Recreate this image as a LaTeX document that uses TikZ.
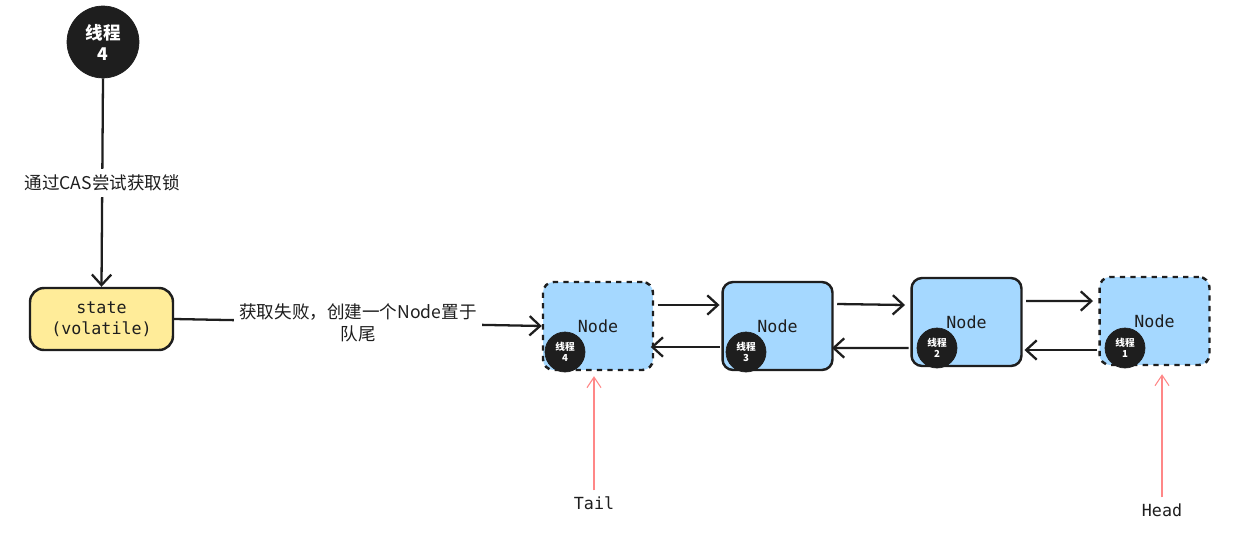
\documentclass[tikz,border=0pt]{standalone}
\usepackage{fontspec}
\setmainfont{Noto Sans CJK SC}
\setmonofont{DejaVu Sans Mono}
\usetikzlibrary{arrows.meta}
\definecolor{ink}{HTML}{1E1E1E}
\definecolor{nodeblue}{HTML}{A5D8FF}
\definecolor{stateyellow}{HTML}{FFEC99}
\definecolor{pointred}{HTML}{FF8787}
\tikzset{
  link/.style={draw=ink,line width=1.3pt,-{Straight Barb[length=6pt,width=11pt]}},
  pointer/.style={draw=pointred,line width=.6pt,-{Straight Barb[length=6pt,width=8pt]}},
  qnode/.style={draw=ink,fill=nodeblue,line width=1.4pt,rounded corners=6pt,minimum width=2.2cm,minimum height=1.76cm,text=ink,font=\ttfamily\fontsize{9.5}{11}\selectfont},
  thread/.style={circle,fill=ink,draw=ink,text=white,align=center,inner sep=0pt},
  smallthread/.style={thread,minimum size=.8cm,font=\bfseries\fontsize{5.5}{6}\selectfont},
  says/.style={fill=white,text=ink,align=center,font=\fontsize{10}{12.5}\selectfont}
}
\begin{document}
\begin{tikzpicture}[x=.02cm,y=-.02cm]
\useasboundingbox[fill=white] (0,0) rectangle (1250,541);
% thread 4 and the lock state
\node[thread,minimum size=1.44cm,font=\bfseries\fontsize{10}{12}\selectfont] (t4) at (103,42) {线程\\4};
\node[draw=ink,fill=stateyellow,line width=1.4pt,rounded corners=8pt,minimum width=2.86cm,minimum height=1.24cm,align=center,text=ink,font=\ttfamily\fontsize{9.5}{12}\selectfont] (state) at (101.5,319) {state\\(volatile)};
\draw[link] (t4.south) -- (state.north) node[midway,says]{通过CAS尝试获取锁};
% the queue
\node[qnode,dashed] (n4) at (598,326) {Node};
\node[qnode] (n3) at (777.5,326) {Node};
\node[qnode] (n2) at (966.5,322) {Node};
\node[qnode,dashed] (n1) at (1154.5,321) {Node};
\node[smallthread] (s4) at (565,352) {线程\\4};
\node[smallthread] (s3) at (746,352) {线程\\3};
\node[smallthread] (s2) at (937,348) {线程\\2};
\node[smallthread] (s1) at (1125,348) {线程\\1};
\draw[link] (state.east) -- (n4.west) node[midway,says]{获取失败，创建一个Node置于\\队尾};
\draw[link] ([xshift=2pt,yshift=.42cm]n4.east) -- ([xshift=-1pt,yshift=.42cm]n3.west);
\draw[link] ([xshift=2pt,yshift=.44cm]n3.east) -- ([xshift=-3pt,yshift=.34cm]n2.west);
\draw[link] ([xshift=2pt,yshift=.42cm]n2.east) -- ([xshift=-3pt,yshift=.40cm]n1.west);
\draw[link] ([xshift=-1pt,yshift=-.42cm]n3.west) -- ([xshift=-2pt,yshift=-.42cm]n4.east);
\draw[link] ([xshift=-1pt,yshift=-.52cm]n2.west) -- ([xshift=-1pt,yshift=-.44cm]n3.east);
\draw[link] ([xshift=-1pt,yshift=-.58cm]n1.west) -- ([xshift=1pt,yshift=-.56cm]n2.east);
% tail and head
\node[text=ink,font=\ttfamily\fontsize{9.5}{11}\selectfont] (tail) at (594,503) {Tail};
\node[text=ink,font=\ttfamily\fontsize{9.5}{11}\selectfont] (head) at (1162,510) {Head};
\draw[pointer,shorten >=.1cm] (tail.north) -- (tail.north |- n4.south);
\draw[pointer,shorten >=.16cm] (head.north) -- (head.north |- n1.south);
\end{tikzpicture}
\end{document}
